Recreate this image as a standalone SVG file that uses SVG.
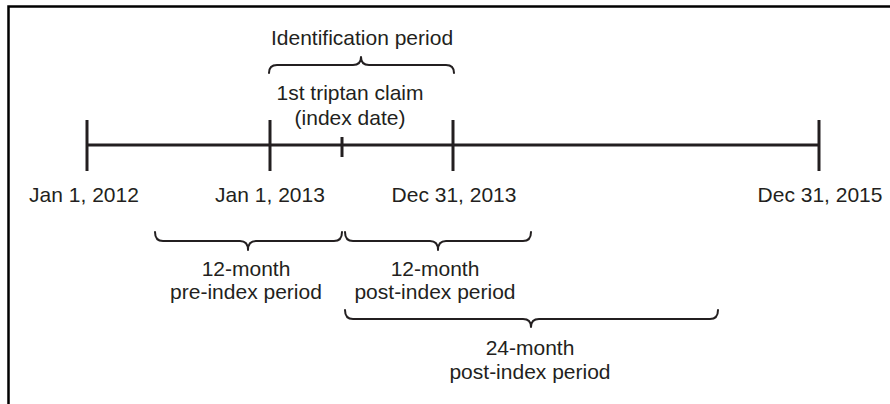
<svg xmlns="http://www.w3.org/2000/svg" width="890" height="404" viewBox="0 0 890 404">
<style>
text{font-family:"Liberation Sans",Arial,sans-serif;font-size:21px;fill:#231f20;text-anchor:middle}
.frame{fill:none;stroke:#000;stroke-width:2.5}
.axis{fill:none;stroke:#231f20;stroke-width:3}
.tick{fill:none;stroke:#231f20;stroke-width:3}
.brace{fill:none;stroke:#231f20;stroke-width:2;stroke-linejoin:round;stroke-linecap:round}
</style>
<rect width="890" height="404" fill="#fff"/>
<path class="frame" d="M8.5 404 L8.5 6.5 L890 6.5"/>
<g id="connectors">
<line class="axis" x1="87" y1="145" x2="819" y2="145"/>
</g>
<g id="jan2012"><line class="tick" x1="87" y1="120" x2="87" y2="171"/><text x="84" y="202">Jan 1, 2012</text></g>
<g id="jan2013"><line class="tick" x1="270" y1="120" x2="270" y2="171"/><text x="270" y="202">Jan 1, 2013</text></g>
<g id="index"><line class="tick" x1="342" y1="137" x2="342" y2="157"/><text x="350" y="100">1st triptan claim</text><text x="350" y="125">(index date)</text></g>
<g id="dec2013"><line class="tick" x1="453" y1="120" x2="453" y2="171"/><text x="454" y="202">Dec 31, 2013</text></g>
<g id="dec2015"><line class="tick" x1="819" y1="120" x2="819" y2="171"/><text x="820" y="202">Dec 31, 2015</text></g>
<g id="identification">
<path class="brace" d="M269 73 Q269 65 277 65 L353 65 Q361 65 361 57 Q361 65 369 65 L446 65 Q454 65 454 73"/>
<text x="362" y="45">Identification period</text>
</g>
<g id="pre12">
<path class="brace" d="M155 232 Q155 241 163 241 L240 241 Q248 241 248 250 Q248 241 256 241 L334 241 Q342 241 342 232"/>
<text x="246" y="276">12-month</text><text x="246" y="299">pre-index period</text>
</g>
<g id="post12">
<path class="brace" d="M345 232 Q345 241 353 241 L430 241 Q438 241 438 250 Q438 241 446 241 L523 241 Q531 241 531 232"/>
<text x="435" y="276">12-month</text><text x="435" y="299">post-index period</text>
</g>
<g id="post24">
<path class="brace" d="M345 310 Q345 319 353 319 L523 319 Q531 319 531 327 Q531 319 539 319 L710 319 Q718 319 718 310"/>
<text x="530" y="355">24-month</text><text x="530" y="379">post-index period</text>
</g>
</svg>
